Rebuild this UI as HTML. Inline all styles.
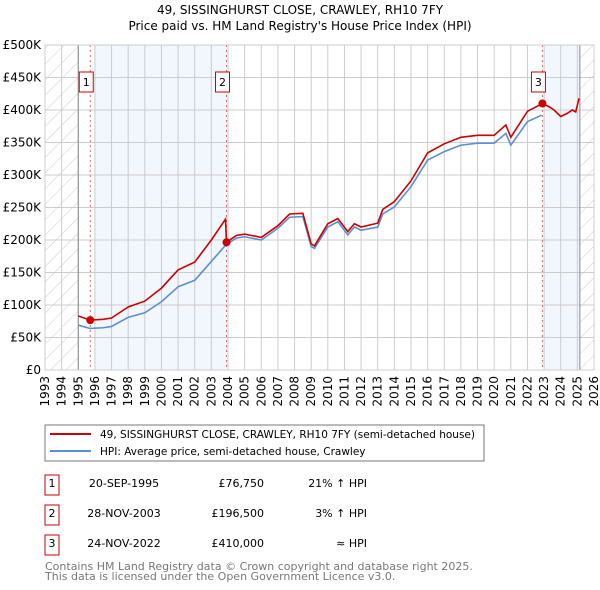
<!DOCTYPE html>
<html><head><meta charset="utf-8"><style>
body{margin:0;background:#fff;font-family:"Liberation Sans","DejaVu Sans",sans-serif;}
svg{display:block}
</style></head><body>
<svg id="c" width="600" height="590" xmlns="http://www.w3.org/2000/svg" font-family="DejaVu Sans, Liberation Sans, sans-serif">
<defs><pattern id="hatch" width="11" height="11" patternUnits="userSpaceOnUse" patternTransform="rotate(45)"><line x1="0" y1="0" x2="0" y2="11" stroke="#ccc" stroke-width="1"/></pattern></defs>
<text x="300" y="14" text-anchor="middle" font-size="12">49, SISSINGHURST CLOSE, CRAWLEY, RH10 7FY</text>
<text x="300" y="30" text-anchor="middle" font-size="12">Price paid vs. HM Land Registry's House Price Index (HPI)</text>
<g id="plot"></g>
<rect x="45" y="425" width="439" height="36" fill="#fff" stroke="#777"/>
<line x1="50" y1="434" x2="91" y2="434" stroke="#cc0000" stroke-width="2"/>
<text x="100" y="438" font-size="10.5">49, SISSINGHURST CLOSE, CRAWLEY, RH10 7FY (semi-detached house)</text>
<line x1="50" y1="451" x2="91" y2="451" stroke="#5b8fd0" stroke-width="2"/>
<text x="100" y="455" font-size="10.5">HPI: Average price, semi-detached house, Crawley</text>
<g font-size="11">
<rect x="45" y="475" width="14" height="20" fill="#fff" stroke="#cc0000"/><text x="52" y="487" text-anchor="middle">1</text>
<text x="124" y="487" text-anchor="middle">20-SEP-1995</text><text x="264" y="487" text-anchor="end">£76,750</text><text x="367" y="487" text-anchor="end">21% ↑ HPI</text>
<rect x="45" y="505" width="14" height="20" fill="#fff" stroke="#cc0000"/><text x="52" y="517" text-anchor="middle">2</text>
<text x="124" y="517" text-anchor="middle">28-NOV-2003</text><text x="264" y="517" text-anchor="end">£196,500</text><text x="367" y="517" text-anchor="end">3% ↑ HPI</text>
<rect x="45" y="535" width="14" height="20" fill="#fff" stroke="#cc0000"/><text x="52" y="547" text-anchor="middle">3</text>
<text x="124" y="547" text-anchor="middle">24-NOV-2022</text><text x="264" y="547" text-anchor="end">£410,000</text><text x="367" y="547" text-anchor="end">≈ HPI</text>
</g>
<text x="45" y="570" font-size="11" fill="#777">Contains HM Land Registry data © Crown copyright and database right 2025.</text>
<text x="45" y="580" font-size="11" fill="#777">This data is licensed under the Open Government Licence v3.0.</text>
</svg>
<script>
const hpiYears=[1995.0,1995.7,1996.5,1997,1998,1999,2000,2001,2002,2003,2003.85,2004.5,2005,2006,2007,2007.7,2008.5,2009.0,2009.2,2010,2010.6,2011.2,2011.6,2012,2013,2013.3,2014,2015,2016,2017,2018,2019,2020,2020.7,2021,2022,2022.85];
const hpiValues=[69,64,65,67,81,88,105,128,138,167,192,203,205,200,218,235,236,190,187,220,228,208,220,215,220,240,251,282,323,336,346,349,349,364,346,382,392];
const priceYears=[1995.0,1995.72,1996.5,1997,1998,1999,2000,2001,2002,2003,2003.85,2003.91,2004.5,2005,2006,2007,2007.7,2008.5,2009.0,2009.2,2010,2010.6,2011.2,2011.6,2012,2013,2013.3,2014,2015,2016,2017,2018,2019,2020,2020.7,2021,2022,2022.9,2023.3,2023.6,2024,2024.4,2024.7,2024.9,2025.1];
const priceValues=[83,76.75,78,80,97,106,126,154,166,200,232,196.5,207,209,204,222,240,241,194,191,225,233,213,225,220,226,247,259,291,334,348,358,361,361,377,358,398,410,405,400,390,395,400,397,418];
const saleYears=[1995.72,2003.91,2022.9];
const saleValues=[76.75,196.5,410];
const saleLabels=["1","2","3"];
const yTicks=[0,50,100,150,200,250,300,350,400,450,500];
const yTickLabels=["£0","£50K","£100K","£150K","£200K","£250K","£300K","£350K","£400K","£450K","£500K"];
const xTicks=[1993,1994,1995,1996,1997,1998,1999,2000,2001,2002,2003,2004,2005,2006,2007,2008,2009,2010,2011,2012,2013,2014,2015,2016,2017,2018,2019,2020,2021,2022,2023,2024,2025,2026];

const X0=45,X1=594,Y0=370,Y1=45;
const sx=y=>X0+(y-1993)/(2026-1993)*(X1-X0);
const sy=v=>Y0-v/500*(Y0-Y1);
const NS="http://www.w3.org/2000/svg";
const g=document.getElementById('plot');
function mk(t,a,p){const e=document.createElementNS(NS,t);for(const k in a)e.setAttribute(k,a[k]);(p||g).appendChild(e);return e;}

const bg1=mk('rect',{x:sx(1996),y:Y1,width:sx(2003.91)-sx(1996),height:Y0-Y1,fill:'#f2f6fd'});


const bg2=mk('rect',{x:sx(2023),y:Y1,width:sx(2025.15)-sx(2023),height:Y0-Y1,fill:'#f2f6fd'});


const h1=mk('rect',{x:X0,y:Y1,width:sx(1995)-X0,height:Y0-Y1,fill:'url(#hatch)'});


const h2=mk('rect',{x:sx(2025.15),y:Y1,width:X1-sx(2025.15),height:Y0-Y1,fill:'url(#hatch)'});



yTicks.forEach((v,i)=>{
  const l=mk('line',{x1:X0,x2:X1,y1:sy(v),y2:sy(v),stroke:'#ccc'});
  
  
  const t=mk('text',{x:X0-4,y:sy(v)+4,'text-anchor':'end','font-size':12});
  
  
  t.textContent=yTickLabels[i];
});
xTicks.forEach(y=>{
  const l=mk('line',{x1:sx(y),x2:sx(y),y1:Y1,y2:Y0,stroke:'#ccc'});
  
  
  const t=mk('text',{x:0,y:0,'text-anchor':'end','font-size':12,transform:`translate(${sx(y)+4},${Y0+6}) rotate(-90)`});
  
  
  t.textContent=y;
});
[1995,2025.15].forEach(y=>{const l=mk('line',{x1:sx(y),x2:sx(y),y1:Y1,y2:Y0,stroke:'#888'});

});

saleYears.forEach((y,i)=>{
  const l=mk('line',{x1:sx(y),x2:sx(y),y1:Y1,y2:Y0,stroke:'#e06666','stroke-dasharray':'2,3'});
  
  
});

const hp=mk('polyline',{points:hpiYears.map((y,i)=>sx(y)+','+sy(hpiValues[i])).join(' '),fill:'none',stroke:'#5b8fd0','stroke-width':1.6});


const pp=mk('polyline',{points:priceYears.map((y,i)=>sx(y)+','+sy(priceValues[i])).join(' '),fill:'none',stroke:'#cc0000','stroke-width':1.6});



saleYears.forEach((y,i)=>{
  const c=mk('circle',{cx:sx(y),cy:sy(saleValues[i]),r:4,fill:'#cc0000'});
  
  
  const r=mk('rect',{x:sx(y)-11,y:72,width:14,height:20,fill:'#fff',stroke:'#cc0000'});
  
  
  const t=mk('text',{x:sx(y)-4,y:86,'text-anchor':'middle','font-size':11});
  
  
  t.textContent=saleLabels[i];
});
const frame=mk('rect',{x:X0,y:Y1,width:X1-X0,height:Y0-Y1,fill:'none',stroke:'#ccc'});


</script>
</body></html>
